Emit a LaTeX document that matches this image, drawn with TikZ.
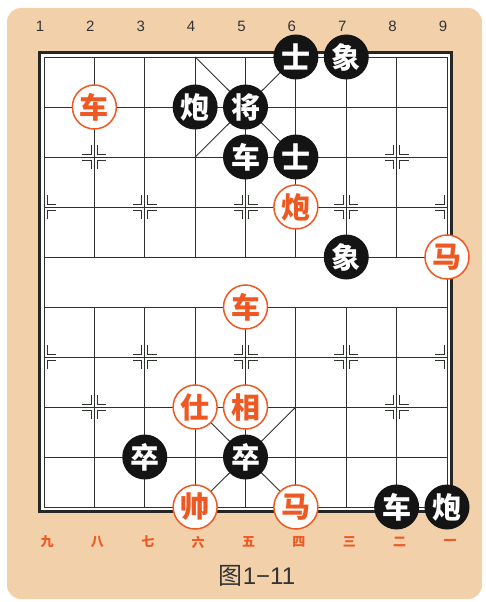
\documentclass[tikz,border=0pt]{standalone}
\usepackage{fontspec}
\setmainfont{Liberation Sans}
\newfontfamily\cjk{Noto Sans CJK SC}
\definecolor{boardtan}{RGB}{242,208,170}
\definecolor{hred}{RGB}{238,88,34}
\definecolor{gridc}{RGB}{45,50,45}
\newcommand\markq[3]{\draw[marker] ([shift={(#2*3,#3*12)}]#1) -- ([shift={(#2*3,#3*3)}]#1) -- ([shift={(#2*12,#3*3)}]#1);}
\newcommand\mkF[1]{\markq{#1}{1}{1}\markq{#1}{1}{-1}\markq{#1}{-1}{1}\markq{#1}{-1}{-1}}
\newcommand\mkR[1]{\markq{#1}{1}{1}\markq{#1}{1}{-1}}
\newcommand\mkL[1]{\markq{#1}{-1}{1}\markq{#1}{-1}{-1}}
\begin{document}
\begin{tikzpicture}[x=1pt,y=-1pt,
  gridline/.style={draw=gridc,line width=0.9pt},
  marker/.style={draw=gridc,line width=0.8pt},
  blackpiece/.style={circle,fill=black!92,minimum size=45pt,inner sep=0pt,text=white,font=\cjk\bfseries\fontsize{29}{29}\selectfont},
  redpiece/.style={circle,fill=white,draw=hred,line width=1.5pt,minimum size=44pt,inner sep=0pt,text=hred,font=\cjk\bfseries\fontsize{29}{29}\selectfont},
  filenum/.style={font=\fontsize{15}{15}\selectfont,text=black!80},
  cnnum/.style={font=\cjk\bfseries\fontsize{13}{13}\selectfont,text=hred}]
\path[use as bounding box] (0,0) rectangle (486,602);
\fill[white] (0,0) rectangle (486,602);
\fill[boardtan,rounded corners=14pt] (7,8) rectangle (482,599);
\fill[white] (39.5,52.5) rectangle (451.5,511.5);
\draw[line width=2.4pt,draw=black!85] (39.5,52.5) rectangle (451.5,511.5);
% grid points
\foreach \i in {1,...,9} {
  \foreach \j in {0,...,9} {
    \coordinate (p\i-\j) at ({44+50.375*(\i-1)},{57+50*\j});
  }
}
\foreach \j in {0,...,9} \draw[gridline] (p1-\j) -- (p9-\j);
\foreach \i in {1,9} \draw[gridline] (p\i-0) -- (p\i-9);
\foreach \i in {2,...,8} {
  \draw[gridline] (p\i-0) -- (p\i-4);
  \draw[gridline] (p\i-5) -- (p\i-9);
}
\draw[gridline] (p4-0) -- (p6-2);
\draw[gridline] (p6-0) -- (p4-2);
\draw[gridline] (p4-7) -- (p6-9);
\draw[gridline] (p6-7) -- (p4-9);
% position marks
\mkF{p2-2}\mkF{p8-2}\mkF{p2-7}\mkF{p8-7}
\foreach \j in {3,6} {
  \mkR{p1-\j}
  \mkF{p3-\j}\mkF{p5-\j}\mkF{p7-\j}
  \mkL{p9-\j}
}
% file numbers
\foreach \i in {1,...,9} \node[filenum] (top\i) at ([shift={(-4,-31)}]p\i-0) {\i};
\foreach \i/\t in {1/九,2/八,3/七,4/六,5/五,6/四,7/三,8/二,9/一}
  \node[cnnum] (bot\i) at ([shift={(3,35)}]p\i-9) {\t};
% black pieces
\node[blackpiece] (bshi1) at (p6-0) {士};
\node[blackpiece] (bxiang1) at (p7-0) {象};
\node[blackpiece] (bpao1) at (p4-1) {炮};
\node[blackpiece] (bjiang) at (p5-1) {将};
\node[blackpiece] (bche1) at (p5-2) {车};
\node[blackpiece] (bshi2) at (p6-2) {士};
\node[blackpiece] (bxiang2) at (p7-4) {象};
\node[blackpiece] (bzu1) at (p3-8) {卒};
\node[blackpiece] (bzu2) at (p5-8) {卒};
\node[blackpiece] (bche2) at (p8-9) {车};
\node[blackpiece] (bpao2) at (p9-9) {炮};
% red pieces
\node[redpiece] (rche1) at (p2-1) {车};
\node[redpiece] (rpao) at (p6-3) {炮};
\node[redpiece] (rma1) at (p9-4) {马};
\node[redpiece] (rche2) at (p5-5) {车};
\node[redpiece] (rshi) at (p4-7) {仕};
\node[redpiece] (rxiang) at (p5-7) {相};
\node[redpiece] (rshuai) at (p4-9) {帅};
\node[redpiece] (rma2) at (p6-9) {马};
% caption
\node[text=black!80,font=\fontsize{24}{24}\selectfont] (cap) at (257,576) {{\cjk 图}1−11};
\end{tikzpicture}
\end{document}
